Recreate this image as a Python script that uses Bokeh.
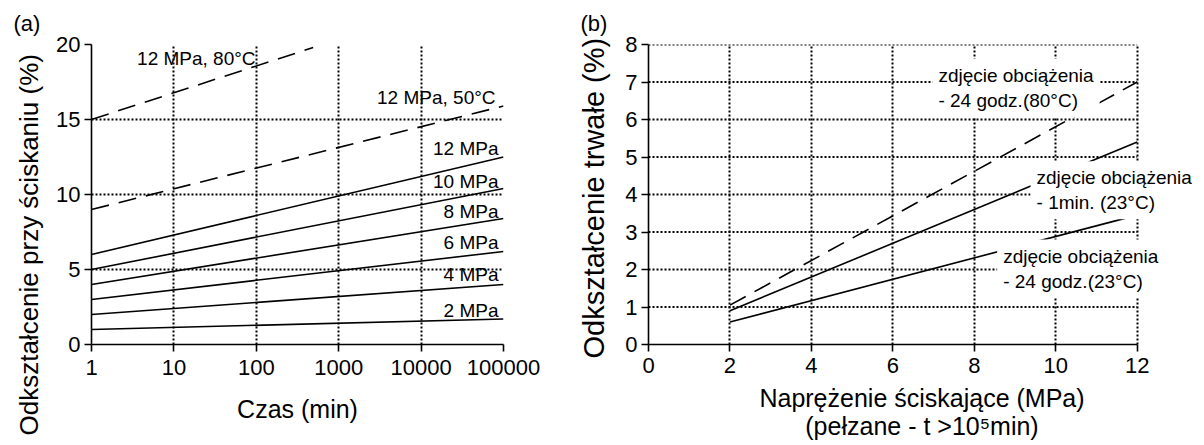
from bokeh.plotting import figure
from bokeh.layouts import row
from bokeh.models import FixedTicker, NumeralTickFormatter, Label, Range1d, Title
from bokeh.embed import file_html
from bokeh.resources import INLINE

FONT = "Liberation Sans"

# ---------------- data: panel (a) ----------------
time_min = [1, 100000]
time_80c = [1, 490]
strain_2mpa = [1.0, 1.7]
strain_4mpa = [2.0, 4.0]
strain_6mpa = [3.0, 6.2]
strain_8mpa = [4.0, 8.4]
strain_10mpa = [5.0, 10.4]
strain_12mpa = [6.0, 12.5]
strain_12mpa_50c = [9.0, 15.9]
strain_12mpa_80c = [15.0, 19.8]
a_xticks = [1, 10, 100, 1000, 10000, 100000]
a_yticks = [0, 5, 10, 15, 20]
a_labels = ["12 MPa, 80°C", "12 MPa, 50°C", "12 MPa", "10 MPa", "8 MPa", "6 MPa", "4 MPa", "2 MPa"]
a_label_x = [98, 80000, 87000, 87000, 87000, 87000, 87000, 87000]
a_label_y = [19.07, 16.5, 13.1, 10.9, 8.87, 6.8, 4.64, 2.25]

# ---------------- data: panel (b) ----------------
stress_mpa = [2, 12]
perm_24h_80c = [1.05, 7.0]
perm_1min_23c = [0.9, 5.4]
perm_24h_23c = [0.6, 3.45]
b_xticks = [0, 2, 4, 6, 8, 10, 12]
b_yticks = [0, 1, 2, 3, 4, 5, 6, 7, 8]
b_labels = ["zdjęcie obciążenia\n- 24 godz.(80°C)",
            "zdjęcie obciążenia\n- 1min. (23°C)",
            "zdjęcie obciążenia\n- 24 godz.(23°C)"]
b_label_x = [6.97, 9.38, 8.56]
b_label_y = [7.62, 4.89, 2.80]


def style(p, xt, yt):
    xtick = FixedTicker(ticks=xt)
    ytick = FixedTicker(ticks=yt)
    p.xaxis.ticker = xtick
    p.yaxis.ticker = ytick
    p.xgrid.ticker = xtick
    p.ygrid.ticker = ytick
    for g in (p.xgrid, p.ygrid):
        g.grid_line_color = "black"
        g.grid_line_dash = "2 2"
        g.grid_line_width = 2
        g.grid_line_alpha = 1.0
    p.outline_line_color = None
    for ax in (p.xaxis, p.yaxis):
        ax.axis_line_color = "black"
        ax.axis_line_width = 1.6
        ax.major_tick_line_color = "black"
        ax.major_tick_line_width = 1.6
        ax.major_tick_out = 7
        ax.major_tick_in = 0
        ax.minor_tick_line_color = None
        ax.major_label_text_font = FONT
        ax.major_label_text_font_size = "22px"
        ax.major_label_text_color = "black"
        ax.major_label_standoff = 4
        ax.axis_label_text_font = FONT
        ax.axis_label_text_font_style = "normal"
        ax.axis_label_text_color = "black"
    p.xaxis.major_label_standoff = 8
    p.xaxis.axis_label_text_font_size = "25px"
    p.background_fill_color = "white"
    p.border_fill_color = "white"


def panel_title(p, text, offset):
    p.title = Title(text=text, align="left", offset=offset, text_font=FONT,
                    text_font_size="22px", text_font_style="normal", text_color="black",
                    standoff=17)


def y_title(p, text, offset, standoff, size):
    p.add_layout(Title(text=text, align="left", offset=offset, text_font=FONT,
                       text_font_size=size, text_font_style="normal",
                       text_color="black", standoff=standoff), "left")


# ---------------- panel (a) ----------------
pa = figure(width=560, height=445, x_axis_type="log",
            x_range=Range1d(1, 100000), y_range=Range1d(0, 20),
            min_border_left=91, min_border_right=57, min_border_top=44, min_border_bottom=101,
            output_backend="svg", toolbar_location=None)
style(pa, a_xticks, a_yticks)
pa.xaxis.formatter = NumeralTickFormatter(format="0")
pa.xaxis.axis_label = "Czas (min)"
pa.xaxis.axis_label_standoff = 17
y_title(pa, "Odkształcenie przy ściskaniu (%)", -91, 20, "26px")
panel_title(pa, "(a)", -78)

for ys in (strain_2mpa, strain_4mpa, strain_6mpa, strain_8mpa, strain_10mpa, strain_12mpa):
    pa.line(time_min, ys, line_color="black", line_width=1.6)
pa.line(time_min, strain_12mpa_50c, line_color="black", line_width=1.6, line_dash="18 10")
pa.line(time_80c, strain_12mpa_80c, line_color="black", line_width=1.6, line_dash="18 10")

for txt, lx, ly in zip(a_labels, a_label_x, a_label_y):
    pa.add_layout(Label(x=lx, y=ly, text=txt, text_font=FONT, text_font_size="19px",
                        text_align="right", text_baseline="middle", text_color="black"))

# ---------------- panel (b) ----------------
b_xmax_frame = 13.43  # frame widened so the right-hand notes are not clipped
pb = figure(width=644, height=445,
            x_range=Range1d(0, b_xmax_frame), y_range=Range1d(0, 8),
            min_border_left=88, min_border_right=9, min_border_top=44, min_border_bottom=101,
            output_backend="svg", toolbar_location=None)
style(pb, b_xticks, b_yticks)
pb.xaxis.bounds = (b_xticks[0], b_xticks[-1])
pb.ygrid.visible = False
pb.segment(x0=[b_xticks[0]] * (len(b_yticks) - 1), x1=[b_xticks[-1]] * (len(b_yticks) - 1),
           y0=b_yticks[1:], y1=b_yticks[1:], line_color="black", line_dash="2 2", line_width=2)
pb.xaxis.axis_label = "Naprężenie ściskające (MPa)\n(pełzane - t >10⁵min)"
pb.xaxis.major_label_standoff = 6
pb.xaxis.axis_label_standoff = 8
pb.xaxis.axis_label_text_line_height = 1.0
y_title(pb, "Odkształcenie trwałe (%)", -14, 26, "29px")
panel_title(pb, "(b)", -68)

pb.line(stress_mpa, perm_24h_80c, line_color="black", line_width=1.6, line_dash="18 10")
pb.line(stress_mpa, perm_1min_23c, line_color="black", line_width=1.6)
pb.line(stress_mpa, perm_24h_23c, line_color="black", line_width=1.6)

for txt, lx, ly in zip(b_labels, b_label_x, b_label_y):
    pb.add_layout(Label(x=lx, y=ly, text=txt, text_font=FONT, text_font_size="19px",
                        text_align="left", text_baseline="top", text_color="black",
                        background_fill_color="white", padding=6))

layout = row(pa, pb, spacing=0)
open("out.html", "w").write(file_html(layout, INLINE))
